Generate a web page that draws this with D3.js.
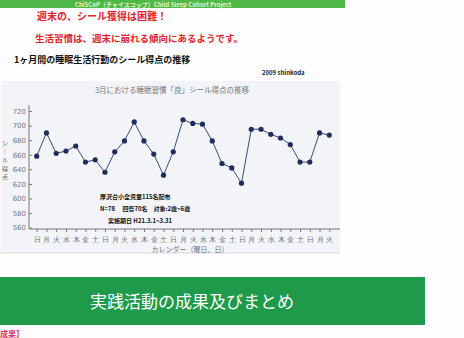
<!DOCTYPE html>
<html><head><meta charset="utf-8">
<script src="https://cdn.jsdelivr.net/npm/d3@7"></script>
<style>
html,body{margin:0;padding:0;background:#fdfdfd;}
svg{display:block;font-family:"Noto Sans CJK JP","Noto Sans",sans-serif;}
</style></head>
<body>
<script>
const days = d3.range(1, 32);
const weekdays = ["日","月","火","水","木","金","土","日","月","火","水","木","金","土","日","月","火","水","木","金","土","日","月","火","水","木","金","土","日","月","火"];
const scores = [658,690,662,665,672,650,653,636,664,679,705,679,661,632,664,708,703,702,679,648,642,621,695,695,688,683,674,650,650,690,687];
const yTicks = [560,580,600,620,640,660,680,700,720];

const W = 464, H = 338;
const svg = d3.select("body").append("svg").attr("width", W).attr("height", H);

// top green band
svg.append("rect").attr("x",0).attr("y",0).attr("width",345).attr("height",8).attr("fill","#4fb848");
svg.append("text").attr("x",75).attr("y",6.5).attr("font-size",6).attr("font-weight","bold").attr("fill","#e8f5c0")
  .text("ChiSCoP（チャイスコップ）Child Sleep Cohort Project");

svg.append("text").attr("x",37).attr("y",20).attr("font-size",10).attr("font-weight","bold").attr("fill","#e3242b")
  .text("週末の、シール獲得は困難！");
svg.append("text").attr("x",35).attr("y",42).attr("font-size",9.5).attr("font-weight","bold").attr("fill","#e3242b")
  .text("生活習慣は、週末に崩れる傾向にあるようです。");
svg.append("text").attr("x",14).attr("y",63).attr("font-size",9).attr("font-weight","bold").attr("fill","#111")
  .text("1ヶ月間の睡眠生活行動のシール得点の推移");
svg.append("text").attr("x",262).attr("y",75).attr("font-size",6).attr("font-weight","bold").attr("fill","#222")
  .text("2009  shinkoda");

// chart picture background
svg.append("rect").attr("x",1).attr("y",81).attr("width",339).attr("height",172).attr("fill","#f2f4f8");
svg.append("line").attr("x1",0).attr("x2",340).attr("y1",253).attr("y2",253).attr("stroke","#d8dbe0");

svg.append("text").attr("x",172).attr("y",93).attr("text-anchor","middle").attr("font-size",7.5).attr("fill","#777")
  .text("3月における睡眠習慣「良」シール得点の推移");

const x = d3.scalePoint().domain(days).range([36.7, 329.3]);
const y = d3.scaleLinear().domain([560, 720]).range([227.7, 111]);

// y axis
const ya = svg.append("g").attr("transform","translate(32,0)")
  .call(d3.axisLeft(y).tickValues(yTicks).tickSize(3).tickPadding(3));
ya.select(".domain").attr("stroke","#777").attr("d","M-3,105V229H0");
ya.selectAll("line").attr("stroke","#777");
ya.selectAll("text").attr("font-size",7).attr("fill","#777").attr("font-family","DejaVu Sans");

// x axis
const xa = svg.append("g").attr("transform","translate(0,229)")
  .call(d3.axisBottom(x).tickSize(3).tickPadding(5).tickFormat((d,i)=>weekdays[i]));
xa.select(".domain").attr("stroke","#777").attr("d","M32,0H340");
xa.selectAll("line").attr("stroke","#777");
xa.selectAll("text").attr("font-size",7).attr("fill","#666");

svg.append("text").attr("x",190).attr("y",252).attr("text-anchor","middle").attr("font-size",7).attr("fill","#777")
  .text("カレンダー（曜日、日）");

// vertical y label
const yl = ["シ","｜","ル","得","点"];
svg.append("g").selectAll("text").data(yl).join("text")
  .attr("x",5).attr("y",(d,i)=>145+i*8.5).attr("text-anchor","middle").attr("font-size",6).attr("fill","#666")
  .text(d=>d);

// line and points
svg.append("path").datum(scores)
  .attr("d", d3.line().x((d,i)=>x(days[i])).y(d=>y(d)))
  .attr("fill","none").attr("stroke","#3b4a78").attr("stroke-width",1);
svg.append("g").selectAll("circle").data(scores).join("circle")
  .attr("cx",(d,i)=>x(days[i])).attr("cy",d=>y(d)).attr("r",2.6).attr("fill","#1f2d5c");

// annotation
const notes = [["厚沢台小全児童115名配布",100,199],["N=78　 回答70名　対象:2歳~6歳",100,211],["実施期日 H21.3.1~3.31",108,223]];
svg.append("g").selectAll("text").data(notes).join("text")
  .attr("x",d=>d[1]).attr("y",d=>d[2]).attr("font-size",6).attr("font-weight","bold").attr("fill","#111")
  .text(d=>d[0]);

// bottom banner
svg.append("rect").attr("x",0).attr("y",277).attr("width",425).attr("height",48).attr("fill","#1e9a4a");
svg.append("text").attr("x",192).attr("y",308).attr("text-anchor","middle").attr("font-size",17).attr("fill","#fff")
  .text("実践活動の成果及びまとめ");
svg.append("text").attr("x",0).attr("y",337).attr("font-size",8).attr("font-weight","bold").attr("fill","#e0306a")
  .text("成果】");
</script>
</body></html>
